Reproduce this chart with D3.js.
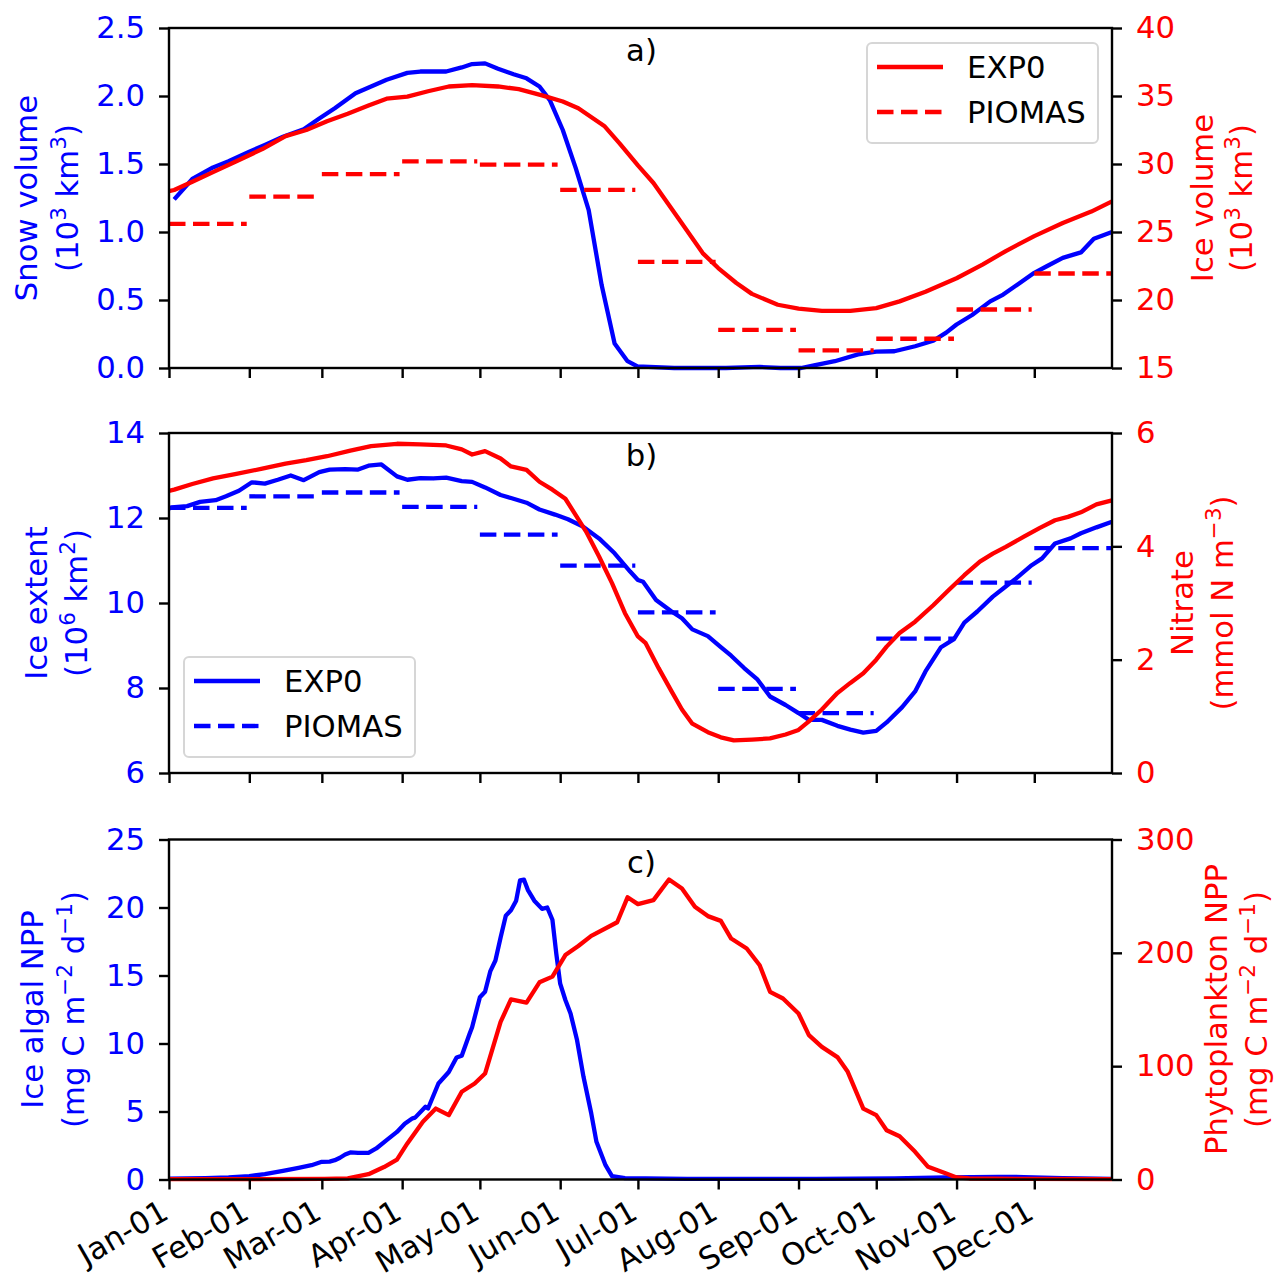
<!DOCTYPE html>
<html>
<head>
<meta charset="utf-8">
<script src="https://cdn.jsdelivr.net/npm/d3@7"></script>
<style>
  body { margin: 0; background: #fff; }
  svg text { font-family: "DejaVu Sans", sans-serif; }
</style>
</head>
<body>
<div id="chart"></div>
<script>
// ---- data: [day of year, value] ----
const snowVolume = [[2,1.24],[9,1.39],[17,1.475],[23,1.52],[31,1.59],[37,1.64],[44,1.70],[52,1.756],[58,1.835],[64,1.91],[72,2.02],[78,2.07],[84,2.12],[92,2.17],[97,2.18],[107,2.18],[113,2.21],[117,2.235],[122,2.24],[127,2.20],[133,2.16],[138,2.13],[143,2.07],[147,1.97],[152,1.75],[157,1.47],[162,1.16],[167,0.61],[172,0.18],[177,0.05],[181,0.01],[183,0.01],[195,0.0],[215,0.0],[228,0.008],[236,0.0],[244,0.0],[249,0.02],[257,0.05],[266,0.10],[273,0.12],[280,0.123],[288,0.16],[295,0.20],[300,0.26],[304,0.32],[310,0.39],[317,0.49],[322,0.54],[328,0.62],[334,0.70],[339,0.75],[345,0.81],[352,0.85],[357,0.95],[364,1.0]];

const iceVolume = [[0,28.0],[2,28.09],[9,28.7],[17,29.4],[26,30.2],[36,31.1],[45,32.05],[53,32.5],[61,33.15],[69,33.7],[77,34.3],[84,34.8],[92,34.95],[100,35.35],[108,35.7],[117,35.8],[127,35.7],[135,35.5],[144,35.05],[152,34.6],[158,34.1],[168,32.8],[174,31.5],[181,29.9],[187,28.6],[197,25.9],[206,23.45],[212,22.35],[219,21.25],[225,20.45],[235,19.65],[243,19.36],[252,19.2],[263,19.2],[273,19.4],[282,19.9],[292,20.6],[304,21.6],[314,22.6],[323,23.6],[334,24.7],[345,25.66],[356,26.5],[364,27.25]];

const piomasIceVolume = [25.6, 27.6, 29.25, 30.2, 29.95, 28.1, 22.8, 17.8, 16.3, 17.15, 19.3, 21.95];

const iceExtent = [[0,12.22],[1,12.25],[7,12.28],[12,12.38],[18,12.42],[22,12.51],[27,12.64],[32,12.84],[37,12.81],[42,12.9],[47,13.0],[52,12.89],[58,13.08],[62,13.14],[68,13.15],[73,13.14],[77,13.23],[82,13.26],[88,12.98],[92,12.9],[97,12.94],[102,12.93],[107,12.95],[113,12.87],[117,12.85],[122,12.72],[128,12.54],[132,12.47],[138,12.36],[143,12.2],[149,12.08],[154,11.97],[160,11.79],[166,11.52],[172,11.17],[178,10.74],[181,10.54],[183,10.5],[188,10.07],[194,9.8],[198,9.64],[202,9.38],[208,9.22],[213,8.96],[217,8.76],[222,8.47],[227,8.21],[232,7.8],[238,7.6],[243,7.41],[247,7.25],[252,7.25],[258,7.11],[263,7.02],[268,6.95],[273,6.99],[277,7.19],[283,7.55],[288,7.92],[292,8.39],[298,8.96],[303,9.15],[307,9.54],[312,9.8],[318,10.15],[322,10.34],[327,10.58],[333,10.89],[337,11.05],[342,11.4],[348,11.52],[352,11.64],[358,11.78],[364,11.91]];

const piomasIceExtent = [12.24, 12.51, 12.6, 12.26, 11.61, 10.88, 9.78, 7.98, 7.41, 9.16, 10.48, 11.29];

const nitrate = [[0,4.98],[2,5.0],[9,5.1],[17,5.2],[26,5.28],[36,5.37],[45,5.46],[53,5.52],[61,5.59],[70,5.69],[78,5.77],[88,5.81],[97,5.80],[107,5.78],[113,5.71],[117,5.62],[122,5.68],[128,5.55],[132,5.41],[138,5.35],[143,5.14],[148,5.0],[153,4.84],[157,4.55],[161,4.26],[166,3.82],[171,3.35],[176,2.82],[181,2.41],[184,2.29],[189,1.85],[194,1.44],[198,1.12],[202,0.87],[208,0.72],[213,0.63],[218,0.575],[225,0.59],[232,0.61],[238,0.68],[243,0.76],[247,0.91],[252,1.12],[258,1.41],[263,1.59],[268,1.76],[273,2.0],[277,2.23],[282,2.47],[288,2.67],[295,2.96],[301,3.23],[307,3.49],[313,3.73],[318,3.87],[323,3.99],[330,4.17],[336,4.32],[342,4.46],[347,4.52],[352,4.6],[358,4.74],[364,4.81]];

const iceAlgalNpp = [[0,0.07],[14,0.1],[23,0.15],[31,0.25],[37,0.4],[44,0.64],[50,0.86],[55,1.05],[59,1.3],[62,1.32],[64,1.42],[66,1.6],[68,1.84],[70,1.99],[73,1.96],[77,1.96],[80,2.28],[84,2.9],[88,3.5],[91,4.1],[94,4.5],[95,4.55],[99,5.35],[100,5.22],[104,7.06],[108,7.9],[111,8.97],[113,9.1],[116,10.7],[117,11.2],[120,13.4],[122,13.8],[124,15.3],[126,16.1],[128,17.8],[130,19.4],[132,19.8],[134,20.5],[135.5,22.0],[137,22.05],[138.5,21.3],[141,20.5],[144,19.9],[146,20.0],[148,19.1],[149.5,16.6],[151,14.4],[153,13.2],[155,12.2],[157.5,10.25],[160,7.55],[163,4.85],[165,2.77],[168.5,1.05],[171,0.25],[176,0.1],[200,0.05],[250,0.05],[280,0.08],[300,0.15],[320,0.2],[330,0.18],[345,0.1],[364,0.05]];

const phytoNpp = [[0,0.3],[30,0.3],[60,0.5],[69,1],[77,4.7],[83,11],[88,17.6],[92,31.8],[98,51],[103,62.6],[108,56.8],[113,77.4],[118,84.7],[122,93.5],[128,139],[132,159],[138,156],[143,174],[148,179],[153,198],[158,206],[163,215],[173,227],[177,249],[181,243],[187,246.5],[193,264.7],[198,256.8],[203,240.6],[208,232.4],[213,228.2],[217,212.6],[223,203.8],[228,189],[232,165.6],[237,159.7],[243,146.5],[247,127.4],[252,117],[258,108],[262,95],[268,62.6],[273,56.8],[277,43.5],[282,38.2],[288,24.4],[293,11.2],[300,5.3],[304,1.8],[309,0.9],[330,0.5],[364,0.3]];

const snowTicks = [0, 0.5, 1.0, 1.5, 2.0, 2.5];
const iceVolTicks = [15, 20, 25, 30, 35, 40];
const extentTicks = [6, 8, 10, 12, 14];
const nitrateTicks = [0, 2, 4, 6];
const algalTicks = [0, 5, 10, 15, 20, 25];
const phytoTicks = [0, 100, 200, 300];
const legendNames = ["EXP0", "PIOMAS"];

// ---- layout ----
const W = 1274, H = 1280;
const LEFT = 169, RIGHT = 1112, PH = 340;
const FS = 30.7;
const BLUE = "#0000ff", RED = "#ff0000";
const LW = 4.3;
const DASH = "16.5,7.5";

const START = Date.UTC(2019, 0, 1);
const dayToDate = d => new Date(START + d * 864e5);

const x = d3.scaleUtc()
    .domain([dayToDate(0), dayToDate(364)])
    .range([LEFT, RIGHT]);
const monthStarts = d3.utcMonth.range(dayToDate(0), dayToDate(365));

const svg = d3.select("#chart").append("svg")
    .attr("width", W).attr("height", H)
    .attr("viewBox", `0 0 ${W} ${H}`);

// text with superscripts: parts = ["(10", ["3"], " km", ["3"], ")"]
function richText(sel, parts) {
    parts.forEach((p, i) => {
        if (Array.isArray(p)) {
            sel.append("tspan").attr("font-size", FS * 0.7).attr("dy", -12).text(p[0]);
        } else {
            const prevSup = i > 0 && Array.isArray(parts[i - 1]);
            sel.append("tspan").attr("dy", prevSup ? 12 : 0).text(p);
        }
    });
}

function yLabel(lines, xs, cy, color) {
    lines.forEach((parts, i) => {
        const t = svg.append("text")
            .attr("transform", `translate(${xs[i]},${cy}) rotate(-90)`)
            .attr("text-anchor", "middle")
            .attr("fill", color)
            .attr("font-size", FS);
        richText(t, parts);
    });
}

function lineGen(y) {
    return d3.line()
        .x(d => x(dayToDate(d[0])))
        .y(d => y(d[1]));
}

function drawSeries(g, data, y, color) {
    g.append("path")
        .datum(data)
        .attr("d", lineGen(y))
        .attr("fill", "none")
        .attr("stroke", color)
        .attr("stroke-width", LW)
        .attr("stroke-linejoin", "round");
}

function drawMonthly(g, values, y, color) {
    values.forEach((v, i) => {
        const x0 = x(monthStarts[i]);
        const end = i < 11 ? d3.utcDay.offset(monthStarts[i + 1], -1) : dayToDate(364);
        g.append("line")
            .attr("x1", x0).attr("x2", x(end))
            .attr("y1", y(v)).attr("y2", y(v))
            .attr("stroke", color)
            .attr("stroke-width", LW)
            .attr("stroke-dasharray", DASH);
    });
}

function styleAxis(g, color) {
    g.select(".domain").remove();
    g.selectAll(".tick line").attr("stroke", "#000").attr("stroke-width", 2.4);
    g.selectAll(".tick text")
        .attr("font-size", FS)
        .attr("font-family", "DejaVu Sans")
        .attr("fill", color);
}

function legend(x0, y0, color) {
    const g = svg.append("g");
    g.append("rect")
        .attr("x", x0).attr("y", y0)
        .attr("width", 231).attr("height", 100)
        .attr("rx", 5)
        .attr("fill", "#fff").attr("fill-opacity", 0.8)
        .attr("stroke", "#d6d6d6").attr("stroke-width", 2);
    legendNames.forEach((name, i) => {
        const yy = y0 + 24 + i * 45;
        g.append("line")
            .attr("x1", x0 + 10).attr("x2", x0 + 76)
            .attr("y1", yy).attr("y2", yy)
            .attr("stroke", color).attr("stroke-width", LW)
            .attr("stroke-dasharray", i === 1 ? DASH : null);
        g.append("text")
            .attr("x", x0 + 100).attr("y", yy + 11)
            .attr("font-size", FS).attr("fill", "#000")
            .text(name);
    });
}

function panel(opt) {
    const top = opt.top, bottom = top + PH;
    const yL = d3.scaleLinear().domain(opt.leftDomain).range([bottom, top]);
    const yR = d3.scaleLinear().domain(opt.rightDomain).range([bottom, top]);

    const gL = svg.append("g");
    drawSeries(gL, opt.leftSeries, yL, BLUE);
    if (opt.leftMonthly) drawMonthly(gL, opt.leftMonthly, yL, BLUE);

    const gR = svg.append("g");
    if (opt.rightMonthly) drawMonthly(gR, opt.rightMonthly, yR, RED);
    drawSeries(gR, opt.rightSeries, yR, RED);

    // frame
    svg.append("rect")
        .attr("x", LEFT).attr("y", top)
        .attr("width", RIGHT - LEFT).attr("height", PH)
        .attr("fill", "none").attr("stroke", "#000").attr("stroke-width", 2.4);

    const axL = svg.append("g").attr("transform", `translate(${LEFT},0)`)
        .call(d3.axisLeft(yL).tickValues(opt.leftTicks).tickSize(10).tickPadding(14)
            .tickFormat(opt.leftFormat));
    styleAxis(axL, BLUE);

    const axR = svg.append("g").attr("transform", `translate(${RIGHT},0)`)
        .call(d3.axisRight(yR).tickValues(opt.rightTicks).tickSize(10).tickPadding(14)
            .tickFormat(d3.format("d")));
    styleAxis(axR, RED);

    const axB = svg.append("g").attr("transform", `translate(0,${bottom})`)
        .call(d3.axisBottom(x).tickValues(monthStarts).tickSize(10)
            .tickFormat(opt.showDates ? d3.utcFormat("%b-%d") : ""));
    styleAxis(axB, "#000");
    if (opt.showDates) {
        axB.selectAll(".tick text")
            .attr("text-anchor", "end")
            .attr("y", 0).attr("dy", 0)
            .attr("transform", "translate(1,38) rotate(-30)");
    }

    svg.append("text")
        .attr("x", (LEFT + RIGHT) / 2 + 1).attr("y", top + 33)
        .attr("text-anchor", "middle").attr("font-size", FS)
        .text(opt.tag);

    yLabel(opt.leftLabel, opt.leftLabelX, top + PH / 2, BLUE);
    yLabel(opt.rightLabel, opt.rightLabelX, top + PH / 2, RED);
}

panel({
    top: 28, tag: "a)",
    leftDomain: [0, 2.5], leftTicks: snowTicks, leftFormat: d3.format(".1f"),
    rightDomain: [15, 40], rightTicks: iceVolTicks,
    leftSeries: snowVolume, rightSeries: iceVolume, rightMonthly: piomasIceVolume,
    leftLabel: [["Snow volume"], ["(10", ["3"], " km", ["3"], ")"]], leftLabelX: [37, 78],
    rightLabel: [["Ice volume"], ["(10", ["3"], " km", ["3"], ")"]], rightLabelX: [1213, 1252]
});
legend(867, 43, RED);

panel({
    top: 433, tag: "b)",
    leftDomain: [6, 14], leftTicks: extentTicks, leftFormat: d3.format("d"),
    rightDomain: [0, 6], rightTicks: nitrateTicks,
    leftSeries: iceExtent, leftMonthly: piomasIceExtent, rightSeries: nitrate,
    leftLabel: [["Ice extent"], ["(10", ["6"], " km", ["2"], ")"]], leftLabelX: [47, 87],
    rightLabel: [["Nitrate"], ["(mmol N m", ["\u22123"], ")"]], rightLabelX: [1193, 1233]
});
legend(184, 657, BLUE);

panel({
    top: 839.5, tag: "c)", showDates: true,
    leftDomain: [0, 25], leftTicks: algalTicks, leftFormat: d3.format("d"),
    rightDomain: [0, 300], rightTicks: phytoTicks,
    leftSeries: iceAlgalNpp, rightSeries: phytoNpp,
    leftLabel: [["Ice algal NPP"], ["(mg C m", ["\u22122"], " d", ["\u22121"], ")"]], leftLabelX: [43, 84],
    rightLabel: [["Phytoplankton NPP"], ["(mg C m", ["\u22122"], " d", ["\u22121"], ")"]], rightLabelX: [1227, 1267]
});
</script>
</body>
</html>
